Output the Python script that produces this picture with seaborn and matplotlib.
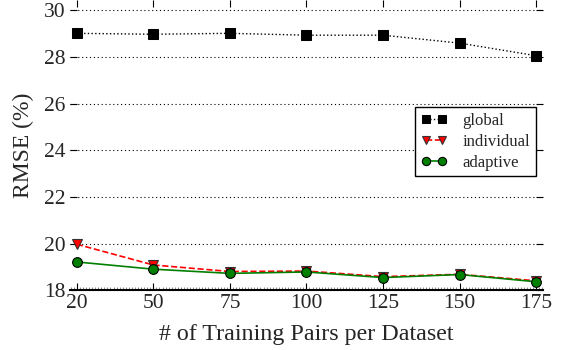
import matplotlib
matplotlib.use("Agg")
import matplotlib.pyplot as plt
import seaborn as sns
import numpy as np
import pandas as pd

pairs = ["20", "50", "75", "100", "125", "150", "175"]
global_rmse = [29.02, 28.98, 29.02, 28.94, 28.94, 28.6, 28.06]
individual_rmse = [19.97, 19.08, 18.8, 18.82, 18.58, 18.68, 18.4]
adaptive_rmse = [19.21, 18.9, 18.72, 18.78, 18.54, 18.67, 18.36]
y_ticks = [18, 20, 22, 24, 26, 28, 30]

sns.set_theme(style="white")
plt.rcParams['font.family'] = ['Liberation Serif', 'DejaVu Serif']
plt.rcParams['mathtext.fontset'] = 'stix'

pos = np.arange(len(pairs))
df = pd.DataFrame({"pos": pos, "global": global_rmse,
                   "individual": individual_rmse, "adaptive": adaptive_rmse})

fig = plt.figure(figsize=(5.68, 3.5), dpi=100)
ax = fig.add_axes([0.123, 0.171, 0.833, 0.829])

for y in y_ticks:
    ax.axhline(y, color="black", linestyle=(0, (1, 2.5)), linewidth=0.8, zorder=0)

sns.lineplot(data=df, x="pos", y="global", ax=ax, color="black", linestyle=":",
             linewidth=1.0, marker="s", markersize=6.5, markeredgecolor="black",
             markerfacecolor="black", label="global", zorder=3)
sns.lineplot(data=df, x="pos", y="individual", ax=ax, color="red", linestyle="--",
             linewidth=1.2, dashes=(5, 3), marker="v", markersize=7.5,
             markeredgecolor="#333333", markeredgewidth=0.8,
             markerfacecolor="red", label="individual", zorder=3)
sns.lineplot(data=df, x="pos", y="adaptive", ax=ax, color="green", linestyle="-",
             linewidth=1.2, marker="o", markersize=7, markeredgecolor="black",
             markeredgewidth=0.8, markerfacecolor="green", label="adaptive", zorder=4)

ax.set_xlim(-0.09, 6.09)
ax.set_ylim(18, 30.45)
ax.set_xticks(pos)
ax.set_xticklabels(pairs)
ax.set_yticks(y_ticks)
ax.set_xlabel("# of Training Pairs per Dataset", fontsize=17.3, labelpad=8)
ax.set_ylabel("RMSE (%)", fontsize=17, labelpad=7)

for s in ["left", "right", "top"]:
    ax.spines[s].set_visible(False)
ax.spines["bottom"].set_color("black")
ax.spines["bottom"].set_linewidth(1.5)

ax.tick_params(axis="both", which="major", direction="in", length=5, width=0.8,
               color="black", labelsize=15.5, pad=3,
               left=True, right=True, top=True, bottom=True)
ax.xaxis.set_minor_locator(matplotlib.ticker.MultipleLocator(0.04))
ax.tick_params(axis="x", which="minor", direction="in", length=2, width=0.5,
               color="#555555", bottom=True, top=False)

leg = ax.legend(loc="upper right", bbox_to_anchor=(0.985, 0.632), fontsize=12,
                frameon=True, fancybox=False, edgecolor="black", framealpha=1,
                numpoints=2, markerscale=0.85, borderaxespad=0,
                handlelength=1.6, borderpad=0.35, labelspacing=0.3,
                handletextpad=0.9)
leg.get_frame().set_linewidth(1.0)

fig.savefig("out.png", dpi=100)
